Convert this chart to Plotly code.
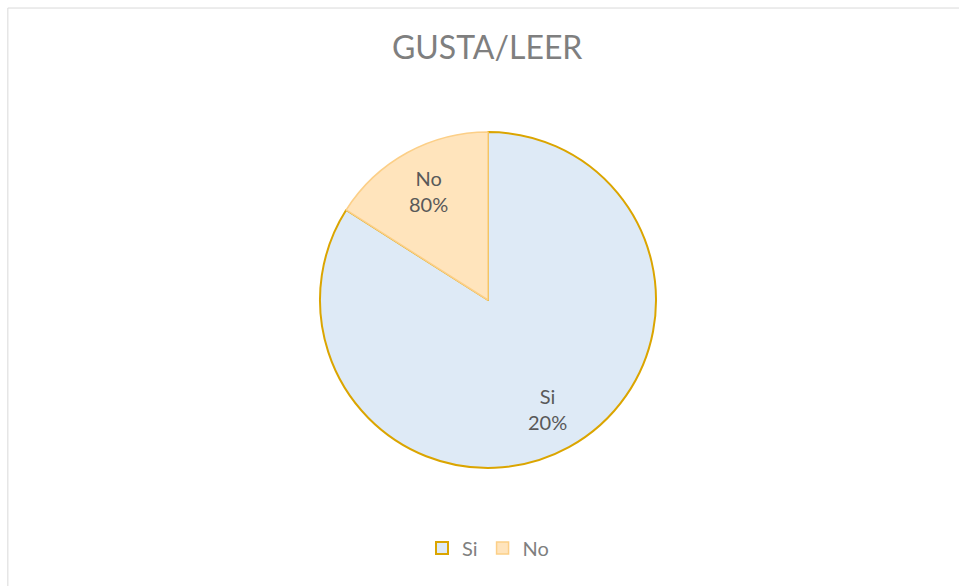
import math
import plotly.graph_objects as go

categories = ["Si", "No"]
slice_values = [84, 16]
shown_percents = ["20%", "80%"]

fill_colors = ["#DEEAF6", "#FFE4BC"]
line_colors = ["#DBA500", "#FCCF87"]

fig = go.Figure(go.Pie(
    labels=categories,
    values=slice_values,
    text=shown_percents,
    textinfo="none",
    hoverinfo="label+text",
    sort=False,
    direction="clockwise",
    rotation=0,
    marker=dict(colors=fill_colors, line=dict(color=line_colors, width=[2, 1.5])),
    hole=0,
    domain=dict(x=[0, 1], y=[0, 1]),
))

# data labels placed along each slice's bisector (Excel "best fit" style)
total = sum(slice_values)
start = 0.0
annotations = []
label_radius = 0.37  # fraction of paper (pie radius is 0.5)
for lab, val, pct in zip(categories, slice_values, shown_percents):
    mid = start + val / total * 360.0 / 2
    start += val / total * 360.0
    ang = math.radians(mid)
    annotations.append(dict(
        x=0.5 + label_radius * math.sin(ang),
        y=0.5 + label_radius * math.cos(ang),
        xref="paper", yref="paper", xanchor="center", yanchor="middle",
        text=f"{lab}<br>{pct}", showarrow=False,
        font=dict(family="Lato", size=20, color="#595959"),
    ))

fig.update_layout(
    width=959, height=586,
    margin=dict(l=320, r=303, t=132, b=118),
    paper_bgcolor="white",
    plot_bgcolor="white",
    title=dict(text="GUSTA/LEER", x=0.508, xanchor="center", y=0.918, yanchor="middle",
               font=dict(family="Lato", size=32, color="#7F7F7F")),
    showlegend=True,
    legend=dict(orientation="h", x=0.5, xanchor="center", y=-0.238, yanchor="middle",
                font=dict(family="Lato", size=20, color="#7F7F7F"), traceorder="normal",
                itemwidth=30),
    annotations=annotations,
    shapes=[dict(type="rect", xref="paper", yref="paper", x0=-0.929, x1=2.0, y0=-0.5, y1=1.369,
                 line=dict(color="#D9D9D9", width=1), fillcolor="rgba(0,0,0,0)", layer="below")],
)

fig.write_html("out.html", config={"displayModeBar": False},
               post_script="document.body.style.margin='0';document.body.style.overflow='hidden';")
